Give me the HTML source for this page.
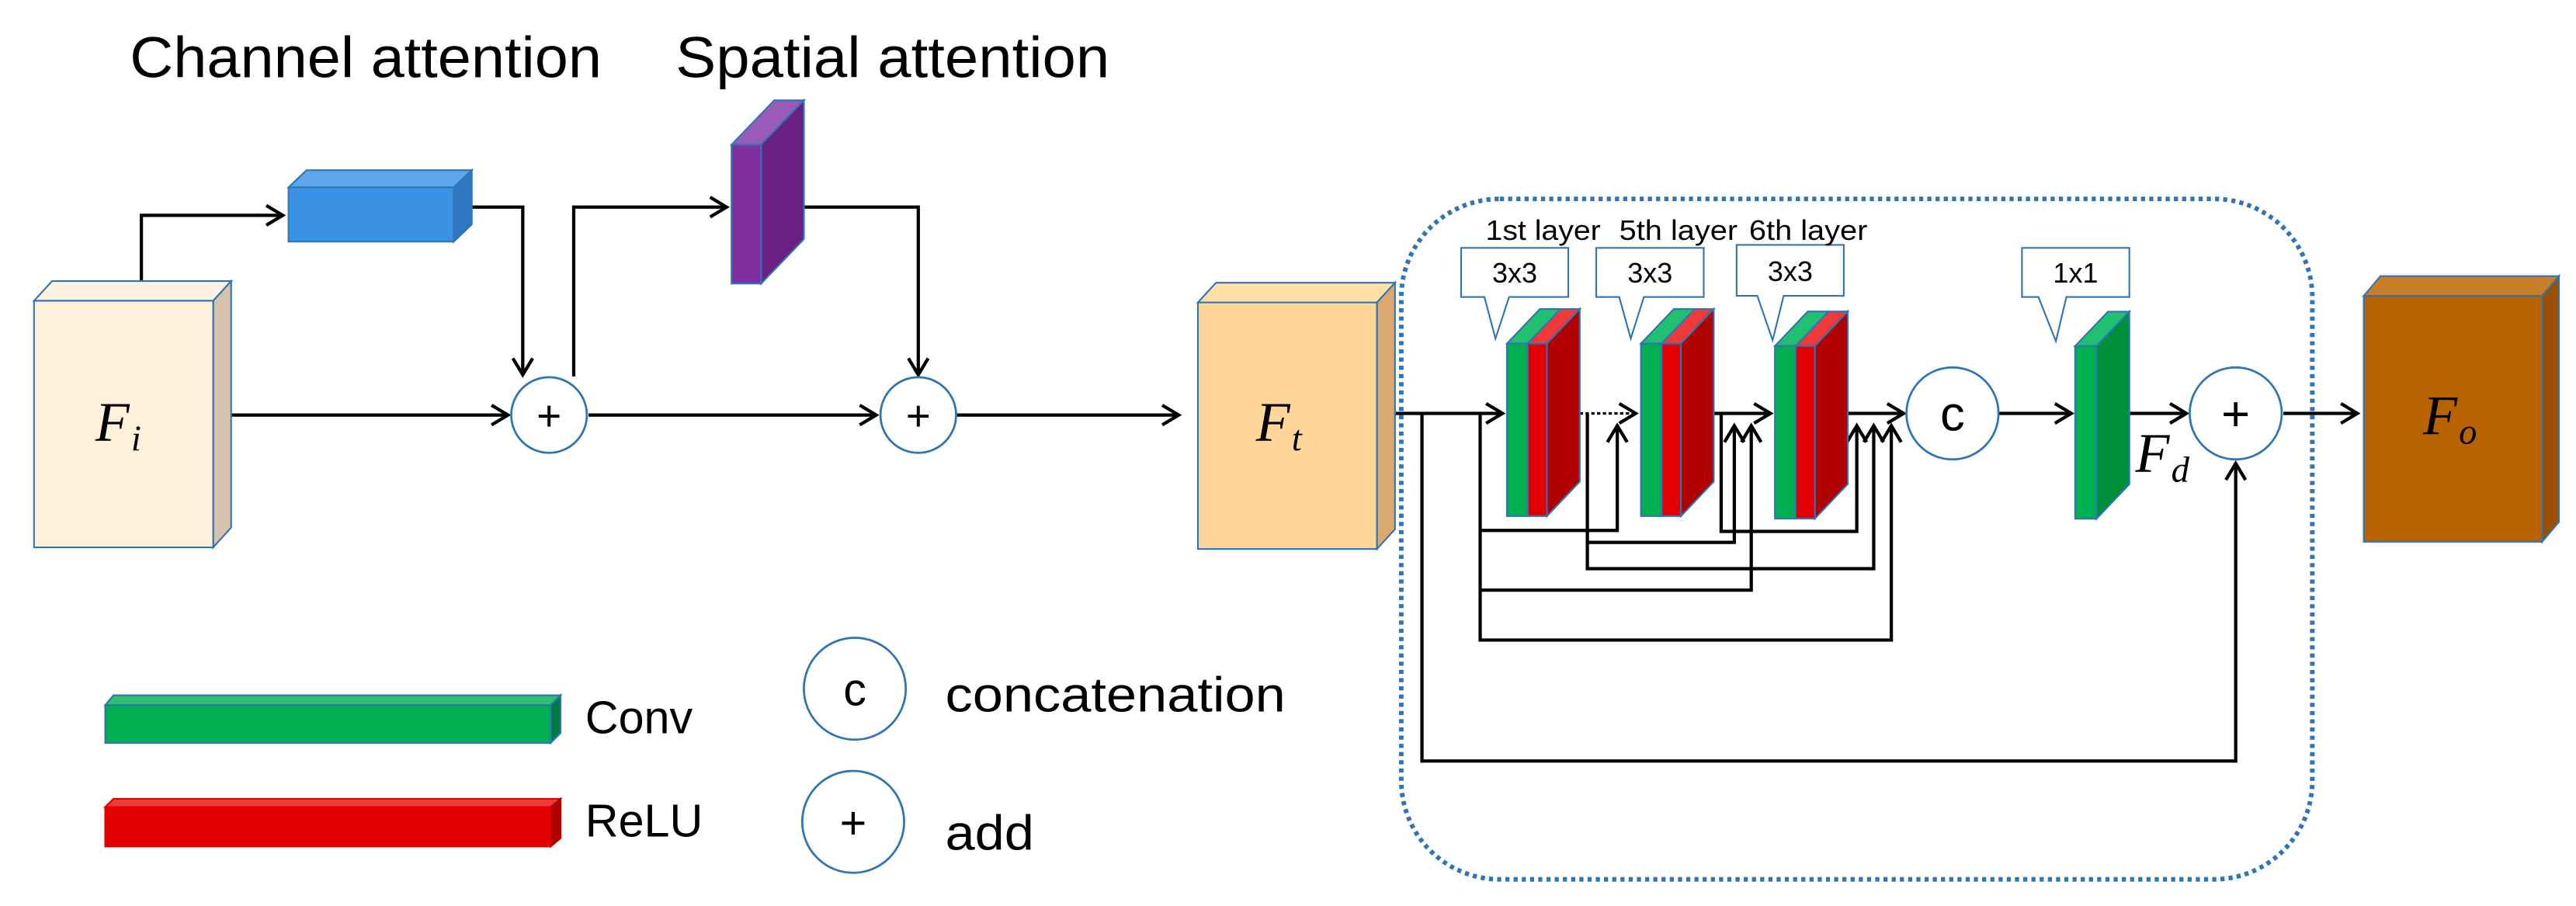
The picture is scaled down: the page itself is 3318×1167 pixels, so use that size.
<!DOCTYPE html>
<html><head><meta charset="utf-8"><style>
html,body{margin:0;padding:0;background:#fff;}
svg{display:block;}
text{font-family:"Liberation Sans",sans-serif;}
.it{font-family:"Liberation Serif",serif;font-style:italic;}
</style></head><body>
<svg width="3318" height="1167" viewBox="0 0 1567 551.2" preserveAspectRatio="none" xmlns="http://www.w3.org/2000/svg">
<defs>
<marker id="a" markerUnits="userSpaceOnUse" markerWidth="14" markerHeight="16" refX="11" refY="7" orient="auto">
<path d="M1,1 L11,7 L1,13" fill="none" stroke="#000" stroke-width="2"/>
</marker>
</defs>
<g stroke="#000" stroke-width="2" fill="none">
<polyline points="86,171 86,131 172,131" marker-end="url(#a)"/>
<polyline points="287,126 318,126 318,228" marker-end="url(#a)"/>
<line x1="141" y1="252.5" x2="309" y2="252.5" marker-end="url(#a)"/>
<polyline points="349,229 349,126 442,126" marker-end="url(#a)"/>
<polyline points="489,126 558.6,126 558.6,228" marker-end="url(#a)"/>
<line x1="358" y1="252.5" x2="533" y2="252.5" marker-end="url(#a)"/>
<line x1="582" y1="252.5" x2="717" y2="252.5" marker-end="url(#a)"/>
<line x1="849" y1="251.5" x2="914" y2="251.5" marker-end="url(#a)"/>
<line x1="961" y1="251.5" x2="995" y2="251.5" stroke-dasharray="2 1.5" stroke-width="1.5" marker-end="url(#a)"/>
<line x1="1031" y1="251.5" x2="1077" y2="251.5" marker-end="url(#a)"/>
<line x1="1113" y1="251.5" x2="1158" y2="251.5" marker-end="url(#a)"/>
<line x1="1216" y1="251.5" x2="1260" y2="251.5" marker-end="url(#a)"/>
<line x1="1285" y1="251.5" x2="1330" y2="251.5" marker-end="url(#a)"/>
<line x1="1389" y1="251.5" x2="1434" y2="251.5" marker-end="url(#a)"/>
<polyline points="865,251.5 865,463 1360,463 1360,282" marker-end="url(#a)"/>
<polyline points="900.4,251.5 900.4,389.4 1150.5,389.4 1150.5,259" marker-end="url(#a)"/>
<polyline points="900.4,322.7 983.8,322.7 983.8,259" marker-end="url(#a)"/>
<polyline points="900.4,359 1065.3,359 1065.3,259" marker-end="url(#a)"/>
<polyline points="965.6,251.5 965.6,346 1139.8,346 1139.8,259" marker-end="url(#a)"/>
<polyline points="965.6,330 1055,330 1055,259" marker-end="url(#a)"/>
<polyline points="1047,251.5 1047,323.3 1129.5,323.3 1129.5,259" marker-end="url(#a)"/>
</g>
<rect x="852.4" y="121" width="554.2" height="414" rx="60" ry="60" fill="none" stroke="#2E75B6" stroke-width="2.8" stroke-dasharray="2.5 2.5"/>

<g stroke="#2E75B6" stroke-width="1">
<polygon points="20.7,183 31.7,171 140.6,171 129.7,183" fill="#FFF2E2"/>
<polygon points="129.7,183 140.6,171 140.6,321 129.7,333" fill="#D6C2AD"/>
<rect x="20.7" y="183" width="109" height="150" fill="#FFF0DC"/>
<polygon points="175.5,114 186.5,103.5 287,103.5 276,114" fill="#5EA6EC"/>
<polygon points="276,114 287,103.5 287,136.5 276,147" fill="#2F75C0"/>
<rect x="175.5" y="114" width="100.5" height="33" fill="#3A92E4"/>
<polygon points="445,88 471,61 489,61 463,88" fill="#9A5AB8"/>
<polygon points="463,88 489,61 489,145.5 463,172.5" fill="#6A2080"/>
<rect x="445" y="88" width="18" height="84.5" fill="#7F2FA0"/>
<polygon points="728.7,184 739.7,172 848.6,172 837.6,184" fill="#FFDFA8"/>
<polygon points="837.6,184 848.6,172 848.6,322 837.6,334" fill="#DBA970"/>
<rect x="728.7" y="184" width="108.9" height="150" fill="#FFD699"/>
<polygon points="1437.9,180 1448,168 1556.6,168 1546.4,180" fill="#C97F28"/>
<polygon points="1546.4,180 1556.6,168 1556.6,317.6 1546.4,329.6" fill="#9A5000"/>
<rect x="1437.9" y="180" width="108.5" height="149.6" fill="#B86200"/>
<g id="b1">
<polygon points="916.7,209 936.7,188 949.3,188 929.3,209" fill="#20C070"/>
<polygon points="929.3,209 949.3,188 961,188 941,209" fill="#F03A3A"/>
<polygon points="941,209 961,188 961,293 941,314" fill="#B00000"/>
<rect x="916.7" y="209" width="12.6" height="105" fill="#00B050"/>
<rect x="929.3" y="209" width="11.7" height="105" fill="#E00000"/>
</g>
<use href="#b1" x="81.5" y="0"/>
<use href="#b1" x="163" y="1.5"/>
<polygon points="1262.3,210.6 1282.3,189.6 1295.3,189.6 1275.3,210.6" fill="#20C070"/>
<polygon points="1275.3,210.6 1295.3,189.6 1295.3,294.6 1275.3,315.6" fill="#00903A"/>
<rect x="1262.3" y="210.6" width="13" height="105" fill="#00B050"/>
<polygon points="64,429 69,423 341,423 335,429" fill="#2EC070"/>
<polygon points="335,429 341,423 341,446 335,452" fill="#007A40"/>
<rect x="64" y="429" width="271" height="23" fill="#00B050"/>
<polygon points="64,491 69,486 341,486 335,491" fill="#F03A3A" stroke="#E00000"/>
<polygon points="335,491 341,486 341,510 335,515" fill="#B00000" stroke="#B00000"/>
<rect x="64" y="491" width="271" height="24" fill="#E00000" stroke="#E00000"/>
<path d="M888.8,150.8 H954 V180.7 H918 L909.7,206 L903,180.7 H888.8 Z" fill="#fff"/>
<path d="M971,150.8 H1036.4 V180.7 H1000 L992,206 L985,180.7 H971 Z" fill="#fff"/>
<path d="M1056.4,149 H1121.6 V180 H1085 L1078.3,207 L1069,180 H1056.4 Z" fill="#fff"/>
<path d="M1230,150.8 H1295.3 V180.7 H1257 L1250.6,207.6 L1240,180.7 H1230 Z" fill="#fff"/>
</g>
<g fill="#fff" stroke="#2E75B6" stroke-width="1.3">
<circle cx="334" cy="252.5" r="23"/>
<circle cx="558.6" cy="252.5" r="23"/>
<circle cx="1187.7" cy="251.5" r="28"/>
<circle cx="1360" cy="251.5" r="28"/>
<circle cx="520" cy="419" r="31"/>
<circle cx="519" cy="500" r="31"/>
</g>
<g font-size="26" text-anchor="middle" fill="#000">
<text x="334" y="262">+</text>
<text x="558.6" y="262">+</text>
<text x="1360" y="262" font-size="30">+</text>
<text x="1187.7" y="262" font-size="30">c</text>
<text x="520" y="429" font-size="28">c</text>
<text x="519" y="510" font-size="28">+</text>
</g>
<g font-size="35" fill="#000">
<text x="79" y="47" textLength="287" lengthAdjust="spacingAndGlyphs">Channel attention</text>
<text x="411" y="47" textLength="264" lengthAdjust="spacingAndGlyphs">Spatial attention</text>
<text x="356" y="446" font-size="28">Conv</text>
<text x="356" y="509" font-size="28">ReLU</text>
<text x="575" y="433" font-size="30" textLength="207" lengthAdjust="spacingAndGlyphs">concatenation</text>
<text x="575" y="517" font-size="30" textLength="54" lengthAdjust="spacingAndGlyphs">add</text>
</g>
<g font-size="17" fill="#000">
<text x="903.7" y="146" textLength="70" lengthAdjust="spacingAndGlyphs">1st layer</text>
<text x="985" y="146" textLength="72" lengthAdjust="spacingAndGlyphs">5th layer</text>
<text x="1064" y="146" textLength="72" lengthAdjust="spacingAndGlyphs">6th layer</text>
<text x="921.4" y="172" text-anchor="middle">3x3</text>
<text x="1003.7" y="172" text-anchor="middle">3x3</text>
<text x="1089" y="171" text-anchor="middle">3x3</text>
<text x="1262.6" y="172" text-anchor="middle">1x1</text>
</g>
<g fill="#000" font-size="34">
<text class="it" x="58" y="268">F<tspan font-size="22" dx="1" dy="6">i</tspan></text>
<text class="it" x="764" y="268">F<tspan font-size="22" dx="1" dy="6">t</tspan></text>
<text class="it" x="1474" y="264">F<tspan font-size="22" dx="1" dy="6">o</tspan></text>
<text class="it" x="1299" y="287">F<tspan font-size="22" dx="1" dy="6">d</tspan></text>
</g>
</svg>
</body></html>
